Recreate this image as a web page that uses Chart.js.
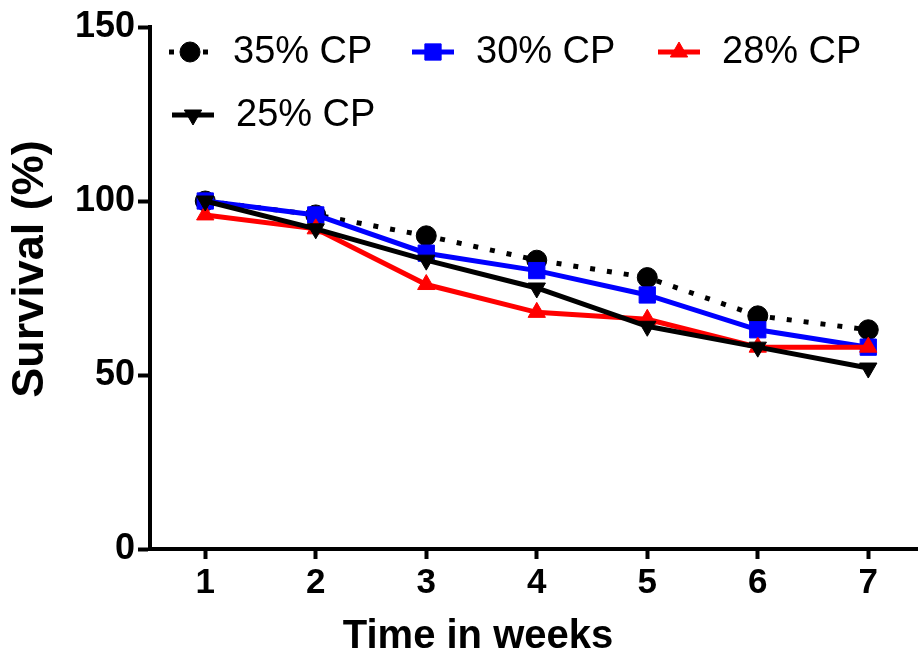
<!DOCTYPE html>
<html><head><meta charset="utf-8">
<script src="https://cdn.jsdelivr.net/npm/chart.js@4"></script>
<style>html,body{margin:0;padding:0;background:#fff}#wrap{width:918px;height:661px}</style>
</head><body><div id="wrap"><canvas id="c" width="918" height="661"></canvas></div>
<script>
// ---- data ----
const weeks = [1, 2, 3, 4, 5, 6, 7];
const seriesNames = ['35% CP', '30% CP', '28% CP', '25% CP'];
const cp35 = [100, 96, 90, 83, 78, 67, 63];
const cp30 = [100, 96, 85, 80, 73, 63, 58];
const cp28 = [96, 92, 76, 68, 66, 58, 58];
const cp25 = [100, 92, 83, 75, 64, 58, 52];
const yTicks = [0, 50, 100, 150];
const xTitle = 'Time in weeks';
const yTitle = 'Survival (%)';

const FONT = "'Liberation Sans', Arial, sans-serif";
const toXY = arr => weeks.map((w, i) => ({x: w, y: arr[i]}));

const styles = [
  {color: '#000000', dash: [5, 12], pointStyle: 'circle', radius: 10, rotation: 0, order: 4},
  {color: '#0000FF', dash: [], pointStyle: 'rect', radius: 11.5, rotation: 0, order: 3},
  {color: '#FF0000', dash: [], pointStyle: 'triangle', radius: 10, rotation: 0, order: 2},
  {color: '#000000', dash: [], pointStyle: 'triangle', radius: 10, rotation: 180, order: 1}
];
const values = [cp35, cp30, cp28, cp25];

const datasets = values.map((v, i) => ({
  label: seriesNames[i],
  data: toXY(v),
  borderColor: styles[i].color,
  backgroundColor: styles[i].color,
  borderWidth: 5,
  borderDash: styles[i].dash,
  pointStyle: styles[i].pointStyle,
  pointRadius: styles[i].radius,
  pointRotation: styles[i].rotation,
  pointBorderWidth: 1,
  pointBackgroundColor: styles[i].color,
  pointBorderColor: styles[i].color,
  order: styles[i].order,
  tension: 0,
  clip: false
}));

// legend / title layout (style only)
const legendPos = [{x: 190, y: 52}, {x: 433, y: 52}, {x: 679, y: 52}, {x: 193, y: 115}];

const legendPlugin = {
  id: 'innerLegend',
  afterDraw(chart) {
    const ctx = chart.ctx;
    chart.data.datasets.forEach((ds, i) => {
      const p = legendPos[i];
      ctx.save();
      ctx.strokeStyle = ds.borderColor;
      ctx.lineWidth = 5;
      ctx.setLineDash(ds.borderDash || []);
      ctx.beginPath();
      ctx.moveTo(p.x - 21, p.y);
      ctx.lineTo(p.x + 21, p.y);
      ctx.stroke();
      ctx.setLineDash([]);
      ctx.fillStyle = ds.pointBackgroundColor;
      ctx.strokeStyle = ds.pointBorderColor;
      ctx.lineWidth = 1;
      Chart.helpers.drawPoint(ctx, {pointStyle: ds.pointStyle, rotation: ds.pointRotation, radius: ds.pointRadius, borderWidth: 1}, p.x, p.y);
      ctx.fillStyle = '#000';
      ctx.font = '38px ' + FONT;
      ctx.textBaseline = 'middle';
      ctx.textAlign = 'left';
      ctx.fillText(ds.label, p.x + 43, p.y + 1);
      ctx.restore();
    });
  }
};

const titlesPlugin = {
  id: 'axisTitles',
  afterDraw(chart) {
    const ctx = chart.ctx;
    ctx.save();
    ctx.fillStyle = '#000';
    ctx.textAlign = 'center';
    ctx.textBaseline = 'middle';
    ctx.font = 'bold 40px ' + FONT;
    ctx.fillText(xTitle, 478, 637);
    ctx.translate(31, 269);
    ctx.rotate(-Math.PI / 2);
    ctx.font = 'bold 45px ' + FONT;
    ctx.fillText(yTitle, 0, 0);
    ctx.restore();
  }
};

new Chart(document.getElementById('c'), {
  type: 'line',
  data: {datasets},
  plugins: [legendPlugin, titlesPlugin],
  options: {
    responsive: false,
    devicePixelRatio: 1,
    animation: false,
    layout: {autoPadding: false, padding: {top: 27, right: 0, left: 0, bottom: 0}},
    plugins: {legend: {display: false}, tooltip: {enabled: false}},
    scales: {
      x: {
        type: 'linear',
        min: 0.5,
        max: 7.45,
        afterBuildTicks: s => { s.ticks = weeks.map(v => ({value: v})); },
        afterFit: s => { s.height = 112; s.paddingLeft = 0; s.paddingRight = 0; },
        ticks: {color: '#000', font: {family: FONT, size: 35, weight: 'bold'}, padding: 3, maxRotation: 0},
        grid: {display: true, drawOnChartArea: false, drawTicks: true, tickLength: 10, tickWidth: 4, color: '#000'},
        border: {display: true, width: 4, color: '#000'},
        title: {display: false}
      },
      y: {
        type: 'linear',
        min: 0,
        max: 150,
        afterBuildTicks: s => { s.ticks = yTicks.map(v => ({value: v})); },
        afterFit: s => { s.width = 150; s.paddingTop = 0; s.paddingBottom = 0; },
        ticks: {color: '#000', font: {family: FONT, size: 36, weight: 'bold'}, padding: 3},
        grid: {display: true, drawOnChartArea: false, drawTicks: true, tickLength: 12, tickWidth: 4, color: '#000'},
        border: {display: true, width: 4, color: '#000'},
        title: {display: false}
      }
    }
  }
});
</script></body></html>
